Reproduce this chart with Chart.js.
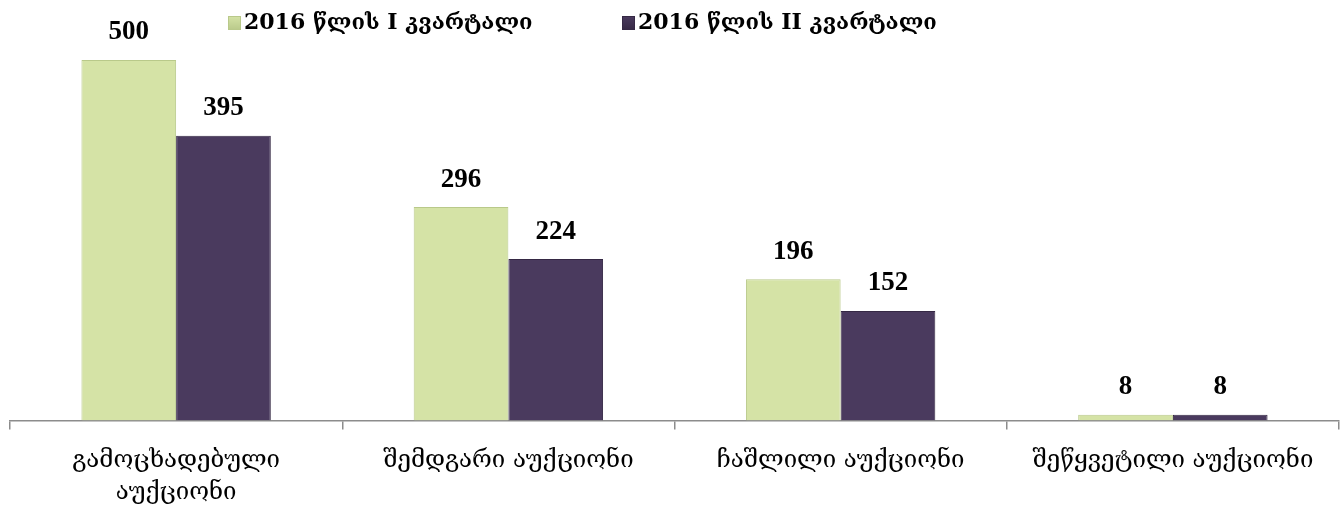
<!DOCTYPE html>
<html>
<head>
<meta charset="utf-8">
<script src="https://cdn.jsdelivr.net/npm/chart.js@4"></script>
<style>
  body { margin: 0; background: #fff; }
  #wrap { width: 1341px; height: 510px; }
</style>
</head>
<body>
<div id="wrap"><canvas id="chart" width="1341" height="510"></canvas></div>
<script>
const categories = [
  ["გამოცხადებული", "აუქციონი"],
  "შემდგარი აუქციონი",
  "ჩაშლილი აუქციონი",
  "შეწყვეტილი აუქციონი"
];
const seriesNames = ["2016 წლის I კვარტალი", "2016 წლის II კვარტალი"];
const q1Values = [500, 296, 196, 8];
const q2Values = [395, 224, 152, 8];
const seriesColors = ["#d5e3a6", "#4a3a5e"];
const seriesBorders = ["#b9c98a", "#352844"];

const georgianFont = "'DejaVu Serif', 'DejaVu Sans', serif";

// value labels above each bar
const valueLabels = {
  id: "valueLabels",
  afterDatasetsDraw(chart) {
    const ctx = chart.ctx;
    ctx.save();
    ctx.font = "bold 27px 'Liberation Serif', serif";
    ctx.fillStyle = "#000";
    ctx.textAlign = "center";
    ctx.textBaseline = "bottom";
    chart.data.datasets.forEach((ds, di) => {
      chart.getDatasetMeta(di).data.forEach((bar, i) => {
        ctx.fillText(ds.data[i], bar.x, bar.y - 14);
      });
    });
    ctx.restore();
  }
};

// legend placed like the original (left of centre)
const topLegend = {
  id: "topLegend",
  afterDraw(chart) {
    const ctx = chart.ctx;
    const starts = [228, 622];
    ctx.save();
    ctx.font = "bold 22px " + georgianFont;
    ctx.textBaseline = "middle";
    chart.data.datasets.forEach((ds, i) => {
      const x = starts[i];
      const y = 23;
      const g = ctx.createLinearGradient(x, y - 7, x, y + 7);
      g.addColorStop(0, ds.backgroundColor);
      g.addColorStop(1, ds.borderColor);
      ctx.fillStyle = g;
      ctx.fillRect(x, y - 7, 13, 14);
      ctx.strokeStyle = ds.borderColor;
      ctx.strokeRect(x + 0.5, y - 6.5, 12, 13);
      ctx.fillStyle = "#000";
      ctx.fillText(ds.label, x + 16, y);
    });
    ctx.restore();
  }
};

new Chart(document.getElementById("chart"), {
  type: "bar",
  data: {
    labels: categories,
    datasets: [
      { label: seriesNames[0], data: q1Values, backgroundColor: seriesColors[0], borderColor: seriesBorders[0], borderWidth: 1 },
      { label: seriesNames[1], data: q2Values, backgroundColor: seriesColors[1], borderColor: seriesBorders[1], borderWidth: 1 }
    ]
  },
  options: {
    responsive: false,
    animation: false,
    layout: { padding: { left: 10, right: 2, top: 60, bottom: -14 } },
    datasets: { bar: { categoryPercentage: 0.57, barPercentage: 1 } },
    plugins: {
      legend: { display: false },
      tooltip: { enabled: false }
    },
    scales: {
      y: {
        display: false,
        min: 0,
        max: 500
      },
      x: {
        border: { display: true, color: "#8c8c8c", width: 1.5 },
        grid: {
          offset: true,
          drawOnChartArea: false,
          drawTicks: true,
          tickLength: 9,
          color: "#8c8c8c",
          lineWidth: 1.5
        },
        ticks: {
          color: "#000",
          padding: 16,
          maxRotation: 0,
          font: { family: georgianFont, size: 24, lineHeight: 1.3 }
        }
      }
    }
  },
  plugins: [valueLabels, topLegend]
});
</script>
</body>
</html>
